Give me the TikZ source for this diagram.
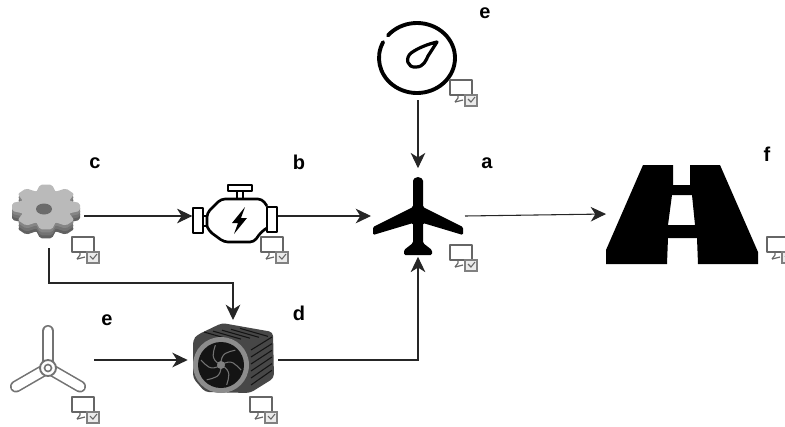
\documentclass[tikz,border=0pt]{standalone}
\usepackage{fontspec}
\setsansfont{Liberation Sans}
\usetikzlibrary{arrows.meta,positioning,calc}
\tikzset{
  iconbox/.style={inner sep=0pt,outer sep=0pt},
  flow/.style={-{Stealth[length=11.5pt,width=11pt,inset=3.5pt]},line width=0.8pt,black!85},
  lbl/.style={font=\sffamily\bfseries\fontsize{15}{17}\selectfont,inner sep=0pt},
  chk/.pic={
    \draw[black!60,line width=0.9pt,line join=round] (15,15) -- (0,15) -- (0,0) -- (22,0) -- (22,15);
    \draw[black!60,line width=0.9pt] (5,22) -- (8,18) -- (8,15);
    \draw[black!60,line width=0.9pt] (5,22) -- (13,20);
    \draw[black!50,fill=black!8,line width=0.9pt] (15,15) rectangle (27,26);
    \draw[black!60,line width=0.8pt] (18,19) -- (21,22) -- (25,17);
  }
}
\begin{document}
\begin{tikzpicture}[x=0.75pt,y=-0.75pt]
\useasboundingbox (0,0) rectangle (785,426);
% nodes, the boxes carry the arrow ends
\node[iconbox,minimum width=52.5pt,minimum height=48pt] (gear) at (49,216) {};
\node[iconbox,minimum width=64pt,minimum height=46pt] (engine) at (235,216) {};
\node[iconbox,minimum width=70.5pt,minimum height=66.5pt] (plane) at (418,212.5) {};
\node[iconbox,minimum width=60pt,minimum height=63pt] (gauge) at (418,58) {};
\node[iconbox,minimum width=114pt,minimum height=75pt] (road) at (682,214) {};
\node[iconbox,minimum width=70.5pt,minimum height=40pt] (fan) at (47,360) {};
\node[iconbox,minimum width=68pt,minimum height=60pt] (cooler) at (233,360) {};
\node[lbl] (lblc) at (95,163) {c};
\node[lbl] (lblb) at (299,162) {b};
\node[lbl] (lbla) at (487,163) {a};
\node[lbl] (lble) at (485,13) {e};
\node[lbl] (lblf) at (767,154) {f};
\node[lbl] (lblg) at (107,320) {e};
\node[lbl] (lbld) at (299,313) {d};
% gear
\foreach \lay/\tone in {9/62,6/55,3/48,0/27}{
  \begin{scope}[shift={(46,207+\lay)},yscale=0.66]
    \fill[black!\tone] (0,0) circle (26);
    \foreach \ang in {0,45,...,315}
      \fill[black!\tone,rotate=\ang,rounded corners=1.5pt] (-10,-22) -- (-6,-34) -- (6,-34) -- (10,-22) -- cycle;
  \end{scope}
}
\fill[black!58] (44,209) ellipse (8 and 5.5);
% engine
\begin{scope}[line width=2pt,black,line join=round]
  \draw (228,185) rectangle (252,191);
  \draw (237,191) -- (237,199) (243,191) -- (243,199);
  \draw (193,208) rectangle (203,233);
  \draw (267,207) rectangle (277,232);
  \draw (203,216) -- (207,216) (203,226) -- (207,226);
  \draw[rounded corners=3pt] (207,226) -- (207,213) -- (221,199) -- (262,199) -- (267,206);
  \draw[rounded corners=3pt] (267,228) -- (261,232) -- (254,242) -- (224,242) -- (209,231) -- (207,226);
  \fill (245,207) -- (232,223) -- (238,223) -- (234,234) -- (247,218) -- (241,218) -- cycle;
\end{scope}
% plane
\fill[black,rounded corners=1pt] (413,182) arc[start angle=180,end angle=360,x radius=5,y radius=5]
  -- (423,207) -- (463,227) -- (463,235) -- (423,223) -- (423,243) -- (432,250) -- (432,255)
  -- (404,255) -- (404,250) -- (413,243) -- (413,223) -- (373,235) -- (373,227) -- (413,207) -- cycle;
% gauge
\draw[black,line width=2.9pt,line cap=round] (417,58) ++(-140:38 and 35) arc[start angle=-140,end angle=207,x radius=38,y radius=35];
\draw[black,line width=2.4pt,line join=round] (437,42) .. controls (428,44) and (418,48) .. (411,53)
  .. controls (405,58) and (407,68) .. (416,67) .. controls (424,67) and (426,60) .. (428,56) -- cycle;
% road
\fill[black,even odd rule,line join=round]
  (643,165) -- (673,165) -- (673,185) -- (690,185) -- (690,165) -- (720,165) -- (758,252) -- (758,264)
  -- (698,264) -- (697,238) -- (668,238) -- (667,264) -- (606,264) -- (606,250) -- cycle
  (672,195) -- (692,195) -- (695,225) -- (668,225) -- cycle;
% fan
\foreach \ang in {270,30,150}{
  \draw[black!55,line width=9pt,line cap=round] (48,368) -- ++(\ang:37);
  \draw[white,line width=6.6pt,line cap=round] (48,368) -- ++(\ang:37);
}
\fill[white,draw=black!55,line width=1.4pt] (48,368) circle (8);
\draw[black!55,line width=1.2pt] (48,368) circle (3.5);
% cooler
\fill[black!72,rounded corners=3pt] (197,335) -- (222,323) -- (273,332) -- (274,378) -- (250,393) -- (205,392) -- (193,378) -- (193,340) -- cycle;
\foreach \i in {0,7,...,35}
  \draw[black!92,line width=0.8pt] (251,350+\i) -- (272,337+\i*0.95);
\foreach \i in {0,9,...,36}
  \draw[black!92,line width=0.8pt] (204+\i,332-\i*0.1) -- (232+\i,340-\i*0.1);
\fill[black!45] (221,365) circle (28);
\fill[black!92] (221,365) circle (23);
\foreach \ang in {0,60,...,300}
  \draw[black!55,line width=0.8pt,rotate around={\ang:(221,365)}] (221,365) .. controls (232,358) and (236,365) .. (241,370);
\fill[black!50] (221,365) circle (4);
% monitor icons
\foreach \nx/\ny in {72/237,261/237,450/245,450/80,72/397,250/397,767/237}
  \pic at (\nx,\ny) {chk};
% connectors
\draw[flow] (gear.east) -- (engine.west);
\draw[flow] (engine.east) -- (plane.west |- engine.east);
\draw[flow] (gauge.south) -- (plane.north);
\draw[flow] (plane.east |- engine.east) -- (road.west);
\draw[flow] (gear.south) |- (233,283) -- (cooler.north);
\draw[flow,line width=1.1pt] (fan.east) -- (cooler.west);
\draw[flow] (cooler.east) -| (plane.south);
\end{tikzpicture}
\end{document}
